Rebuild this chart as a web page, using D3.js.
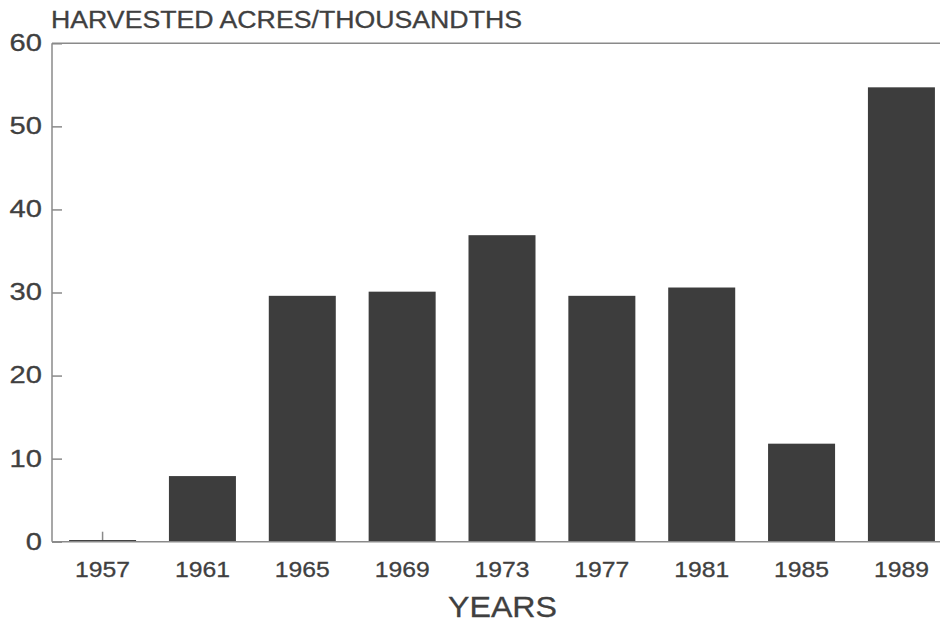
<!DOCTYPE html>
<html>
<head>
<meta charset="utf-8">
<script src="https://cdn.jsdelivr.net/npm/d3@7/dist/d3.min.js"></script>
<style>
  html, body { margin: 0; padding: 0; background: #fff; }
  svg { display: block; }
  text { font-family: "Liberation Sans", Arial, Helvetica, sans-serif; fill: #404040; stroke: #404040; stroke-width: 0.3px; }
</style>
</head>
<body>
<svg id="chart" width="940" height="622"></svg>
<script>
// ---- data ----
const years = ["1957", "1961", "1965", "1969", "1973", "1977", "1981", "1985", "1989"];
const acres = [0.2, 7.9, 29.6, 30.1, 36.9, 29.6, 30.6, 11.8, 54.7];
const yTicks = [0, 10, 20, 30, 40, 50, 60];
const yTitle = "HARVESTED ACRES/THOUSANDTHS";
const xTitle = "YEARS";

// ---- layout ----
const W = 940, H = 622;
const plotLeft = 52, plotTop = 43.3, plotBottom = 541.7;

const svg = d3.select("#chart");

const x = d3.scaleBand()
  .domain(years)
  .range([plotLeft, 952])
  .paddingInner(0.329)
  .paddingOuter(0.171);

const y = d3.scaleLinear()
  .domain([0, 60])
  .range([plotBottom, plotTop]);

// x axis (drawn first so bars cover the inner ticks)
const xAxis = svg.append("g")
  .attr("transform", `translate(0,${plotBottom})`)
  .call(d3.axisBottom(x).tickSize(-10).tickPadding(20).tickSizeOuter(0));
xAxis.select(".domain").remove();
xAxis.selectAll(".tick line").attr("stroke", "#8a8a8a").attr("stroke-width", 1.5);
xAxis.selectAll(".tick text")
  .attr("font-size", 22)
  .attr("textLength", 55)
  .attr("lengthAdjust", "spacingAndGlyphs")
  .attr("fill", "#404040")
  .style("font-family", "'Liberation Sans', Arial, sans-serif");

// bars
svg.append("g")
  .selectAll("rect")
  .data(years.map((yr, i) => ({ yr, v: acres[i] })))
  .join("rect")
  .attr("x", d => x(d.yr))
  .attr("width", x.bandwidth())
  .attr("y", d => y(d.v))
  .attr("height", d => y(0) - y(d.v))
  .attr("fill", "#3d3d3d");

// y axis
const yAxis = svg.append("g")
  .attr("transform", `translate(${plotLeft},0)`)
  .call(d3.axisLeft(y).tickValues(yTicks).tickSize(-10).tickPadding(10).tickSizeOuter(0));
yAxis.select(".domain").remove();
yAxis.selectAll(".tick line").attr("stroke", "#8a8a8a").attr("stroke-width", 1.5);
yAxis.selectAll(".tick text")
  .attr("font-size", 23)
  .attr("textLength", d => String(d).length * 16.2)
  .attr("lengthAdjust", "spacingAndGlyphs")
  .attr("fill", "#404040")
  .style("font-family", "'Liberation Sans', Arial, sans-serif");

// frame lines
const frame = svg.append("g").attr("stroke", "#8a8a8a").attr("stroke-width", 1.5).attr("fill", "none");
frame.append("line").attr("x1", plotLeft).attr("x2", W).attr("y1", y(60)).attr("y2", y(60));
frame.append("line").attr("x1", plotLeft).attr("x2", W).attr("y1", y(0)).attr("y2", y(0));
frame.append("line").attr("x1", plotLeft).attr("x2", plotLeft).attr("y1", y(60)).attr("y2", y(0));

// titles
svg.append("text")
  .attr("x", 51)
  .attr("y", 27.5)
  .attr("font-size", 23)
  .attr("textLength", 471)
  .attr("lengthAdjust", "spacingAndGlyphs")
  .text(yTitle);

svg.append("text")
  .attr("x", 448)
  .attr("y", 616.5)
  .attr("font-size", 30)
  .attr("textLength", 109)
  .attr("lengthAdjust", "spacingAndGlyphs")
  .text(xTitle);
</script>
</body>
</html>
